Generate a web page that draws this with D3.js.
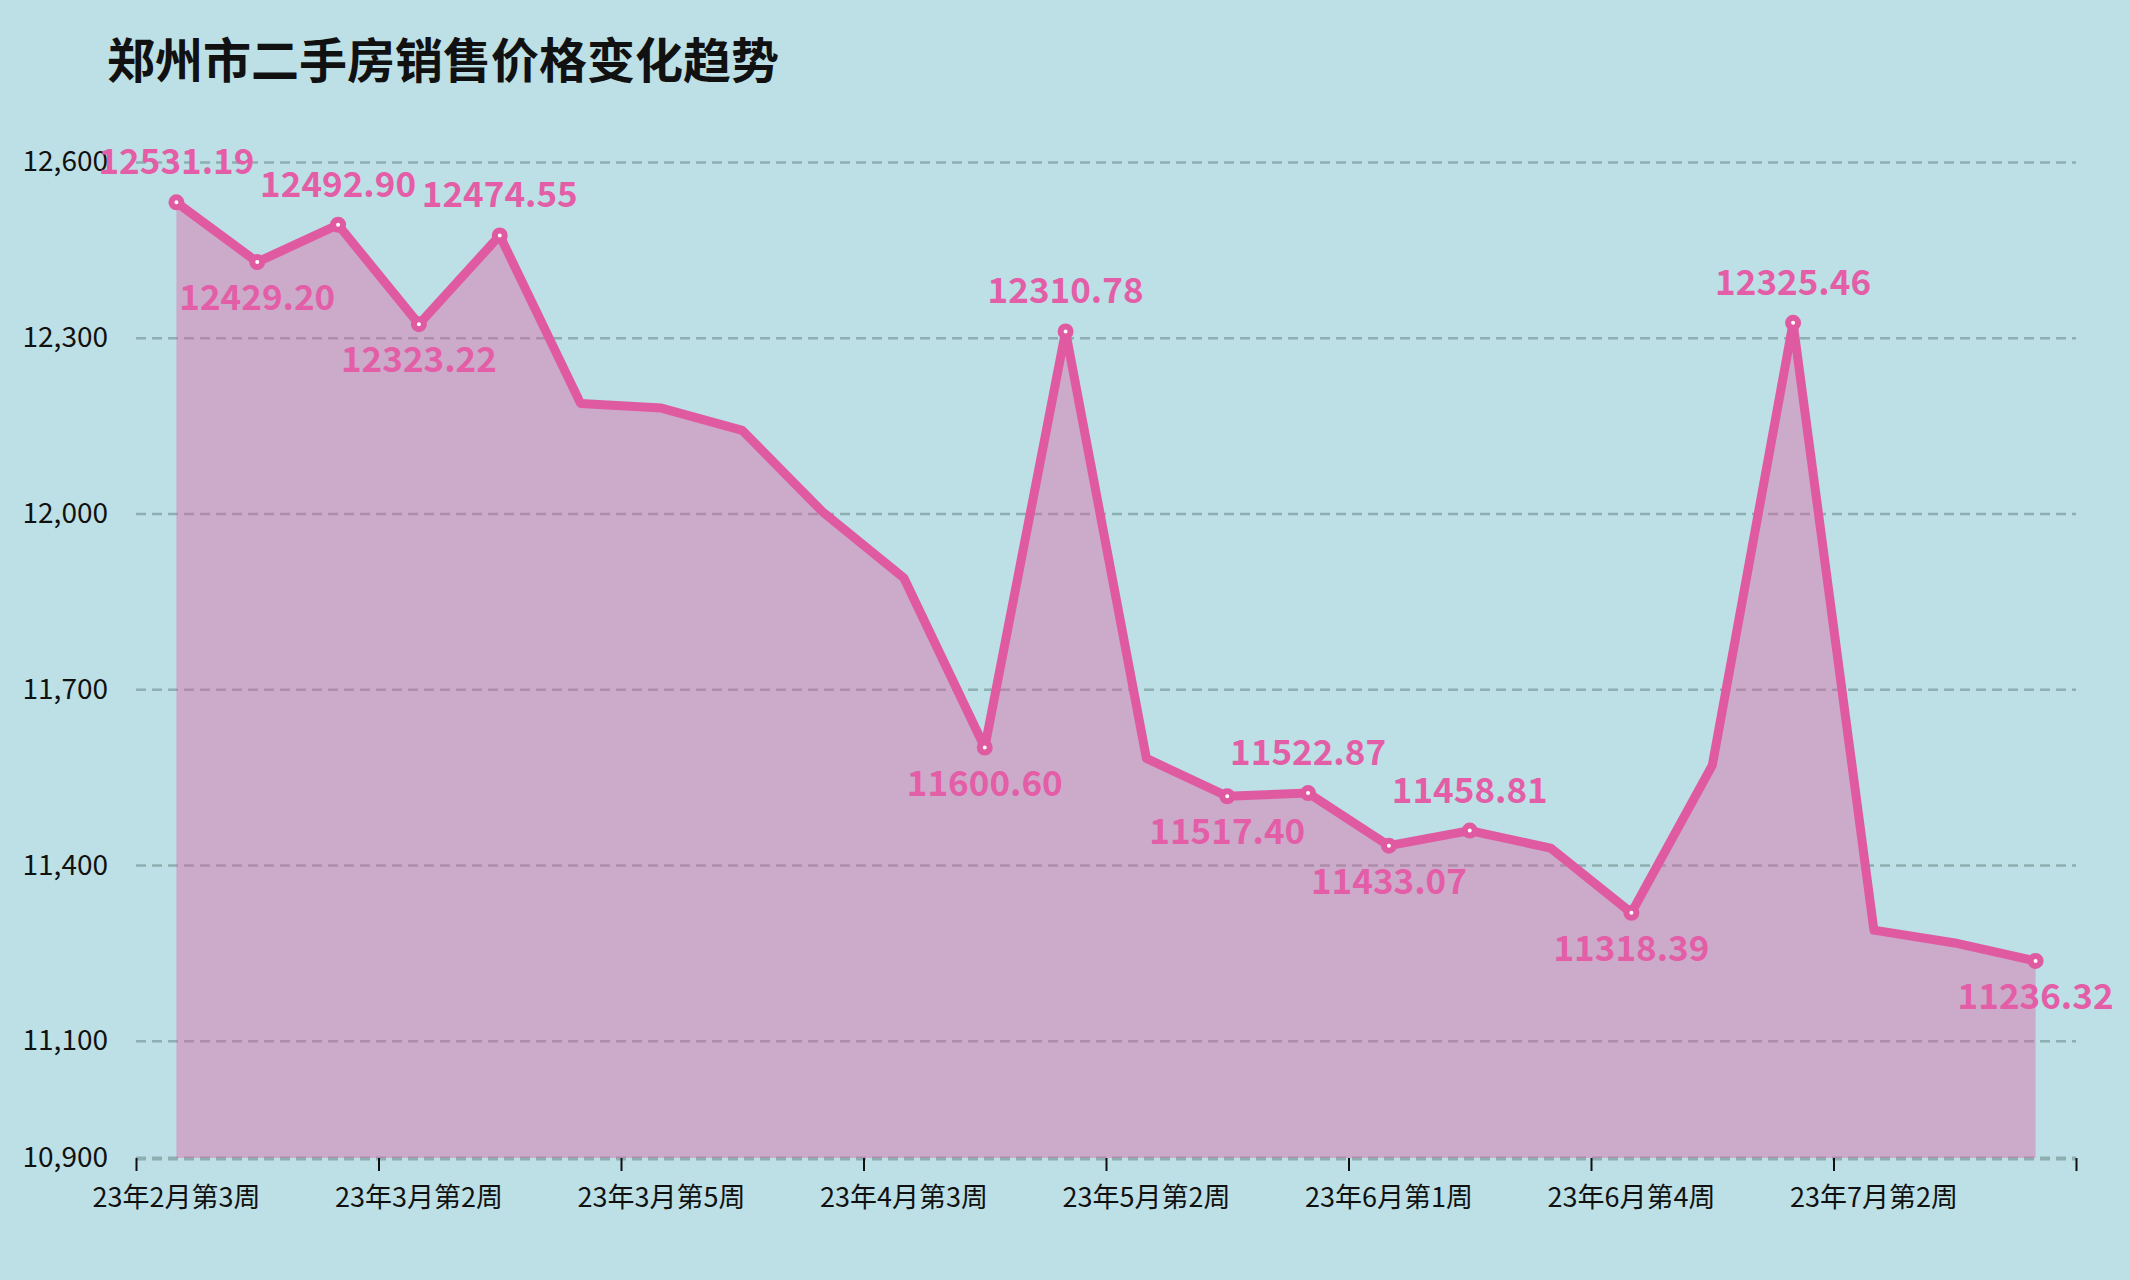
<!DOCTYPE html>
<html>
<head>
<meta charset="utf-8">
<script src="https://cdn.jsdelivr.net/npm/d3@7"></script>
<style>
  html, body { margin: 0; padding: 0; background: #bce0e5; }
  svg { display: block; font-family: "Noto Sans CJK SC", "Noto Sans", sans-serif; }
</style>
</head>
<body>
<div id="chart"></div>
<script>
// weekly categories, 2023-02 week 3 .. 2023-07 week 4
const categories = [
  "23年2月第3周", "23年2月第4周",
  "23年3月第1周", "23年3月第2周", "23年3月第3周", "23年3月第4周", "23年3月第5周",
  "23年4月第1周", "23年4月第2周", "23年4月第3周", "23年4月第4周",
  "23年5月第1周", "23年5月第2周", "23年5月第3周", "23年5月第4周",
  "23年6月第1周", "23年6月第2周", "23年6月第3周", "23年6月第4周", "23年6月第5周",
  "23年7月第1周", "23年7月第2周", "23年7月第3周", "23年7月第4周"
];
const prices = [
  12531.19, 12429.20, 12492.90, 12323.22, 12474.55, 12188, 12180, 12142,
  12002, 11890, 11600.60, 12310.78, 11582, 11517.40, 11522.87, 11433.07,
  11458.81, 11429, 11318.39, 11570, 12325.46, 11289, 11267, 11236.32
];
const yTicks = [10900, 11100, 11400, 11700, 12000, 12300, 12600];
const title = "郑州市二手房销售价格变化趋势";

const W = 2129, H = 1280;
const margin = { top: 162, right: 53, bottom: 122, left: 136 };
const width = W - margin.left - margin.right;
const height = H - margin.top - margin.bottom;
const pink = "#e05aa2";

const svg = d3.select("#chart").append("svg")
  .attr("width", W)
  .attr("height", H);

svg.append("rect").attr("width", W).attr("height", H).attr("fill", "#bce0e5");

svg.append("text")
  .attr("x", 107)
  .attr("y", 78)
  .attr("font-size", 48)
  .attr("font-weight", 700)
  .attr("fill", "#111")
  .text(title);

const g = svg.append("g").attr("transform", `translate(${margin.left},${margin.top})`);

const x = d3.scaleBand().domain(categories).range([0, width]);
const xIdx = d3.scaleLinear().domain([0, categories.length]).range([0, width]);
const y = d3.scaleLinear().domain([10900, 12600]).range([height, 0]);
const px = (i) => x(categories[i]) + x.bandwidth() / 2;

// y axis with dashed grid
const yAxis = g.append("g")
  .call(d3.axisLeft(y).tickValues(yTicks).tickFormat(d3.format(",")).tickSize(-width).tickPadding(28));
yAxis.select(".domain").remove();
yAxis.selectAll(".tick line")
  .attr("stroke", "#6e8e90")
  .attr("stroke-opacity", 0.6)
  .attr("stroke-width", (d) => d === 10900 ? 4 : 2.5)
  .attr("stroke-dasharray", "10,6");
yAxis.selectAll(".tick text")
  .attr("font-size", 28)
  .attr("fill", "#111")
  .attr("font-family", "'Noto Sans CJK SC', sans-serif");

// x tick marks on band edges
const xTickAxis = g.append("g")
  .attr("transform", `translate(0,${height})`)
  .call(d3.axisBottom(xIdx).tickValues(d3.range(0, categories.length + 1, 3)).tickFormat("").tickSize(13));
xTickAxis.select(".domain").remove();
xTickAxis.selectAll(".tick line").attr("stroke", "#111").attr("stroke-width", 2);

// x labels every 3 weeks
const xAxis = g.append("g")
  .attr("transform", `translate(0,${height})`)
  .call(d3.axisBottom(x).tickValues(categories.filter((d, i) => i % 3 === 0)).tickSize(0).tickPadding(30));
xAxis.select(".domain").remove();
xAxis.selectAll(".tick text")
  .attr("font-size", 27)
  .attr("fill", "#111")
  .attr("font-family", "'Noto Sans CJK SC', sans-serif");

// area + line
const area = d3.area()
  .x((d, i) => px(i))
  .y0(y(10900))
  .y1((d) => y(d));
g.append("path")
  .datum(prices)
  .attr("d", area)
  .attr("fill", pink)
  .attr("fill-opacity", 0.4);

const line = d3.line()
  .x((d, i) => px(i))
  .y((d) => y(d));
g.append("path")
  .datum(prices)
  .attr("d", line)
  .attr("fill", "none")
  .attr("stroke", pink)
  .attr("stroke-width", 9)
  .attr("stroke-linejoin", "round");

// local peaks and troughs get a marker and a label
const marks = prices.map((v, i) => {
  const prev = i > 0 ? prices[i - 1] : null;
  const next = i < prices.length - 1 ? prices[i + 1] : null;
  const isMax = (prev === null || v > prev) && (next === null || v > next);
  const isMin = (prev === null || v < prev) && (next === null || v < next);
  return { i, v, isMax, isMin };
}).filter((d) => d.isMax || d.isMin);

g.selectAll(".dot")
  .data(marks)
  .join("circle")
  .attr("class", "dot")
  .attr("cx", (d) => px(d.i))
  .attr("cy", (d) => y(d.v))
  .attr("r", 5)
  .attr("fill", "#fff")
  .attr("stroke", pink)
  .attr("stroke-width", 6);

g.selectAll(".val")
  .data(marks)
  .join("text")
  .attr("class", "val")
  .attr("x", (d) => px(d.i))
  .attr("y", (d) => d.isMax ? y(d.v) - 28 : y(d.v) + 48)
  .attr("text-anchor", "middle")
  .attr("font-size", 35)
  .attr("font-weight", 700)
  .attr("fill", "#e35ea7")
  .text((d) => d.v.toFixed(2));
</script>
</body>
</html>
